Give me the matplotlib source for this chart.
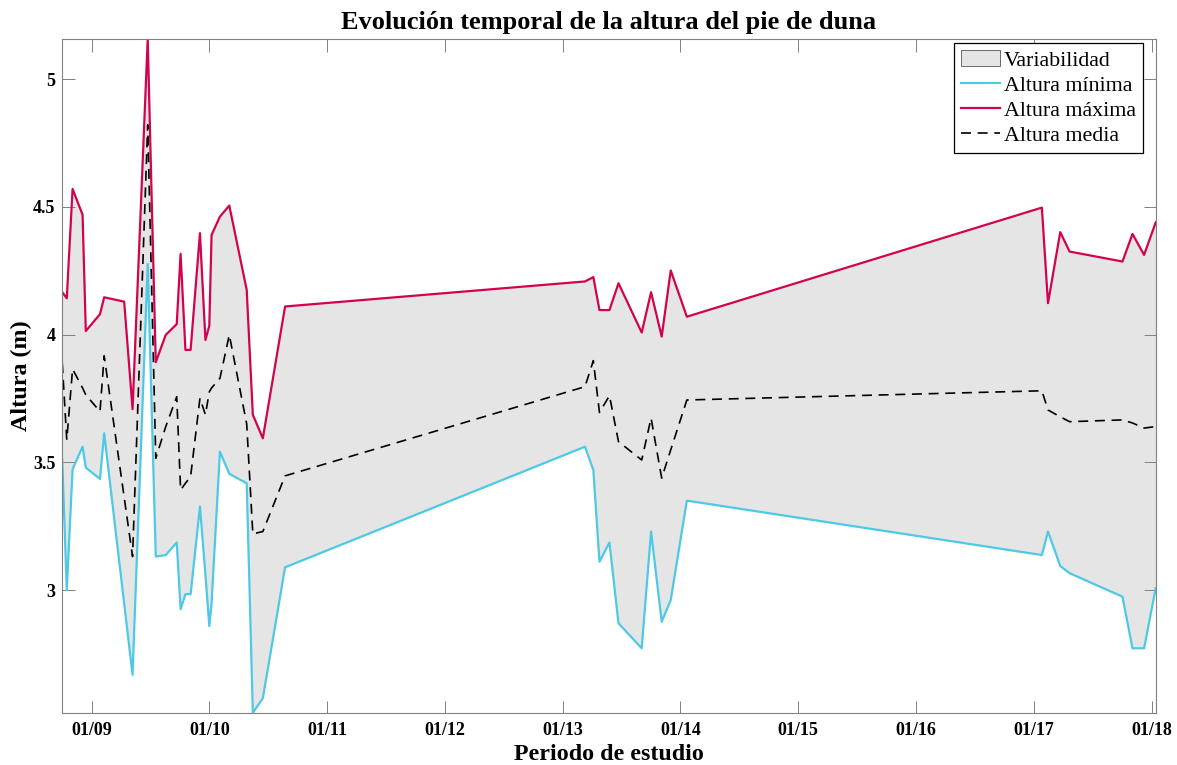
import numpy as np
import pandas as pd
import matplotlib
matplotlib.use("Agg")
import matplotlib.pyplot as plt
import matplotlib.dates as mdates
from matplotlib.patches import Patch
from matplotlib.lines import Line2D

plt.rcParams['font.family'] = ['Liberation Serif', 'DejaVu Serif']

# Fechas de los levantamientos
fechas = [
    "2008-10-02", "2008-10-16", "2008-11-03", "2008-12-04", "2008-12-14",
    "2009-01-27", "2009-02-09", "2009-04-12", "2009-05-08", "2009-06-24",
    "2009-07-19", "2009-08-19", "2009-09-22", "2009-10-04", "2009-10-19",
    "2009-11-04", "2009-12-03", "2009-12-20", "2010-01-01", "2010-01-08",
    "2010-02-03", "2010-03-04", "2010-04-27", "2010-05-16", "2010-06-16",
    "2010-08-24", "2013-03-11", "2013-04-06", "2013-04-25", "2013-05-26",
    "2013-06-23", "2013-09-03", "2013-10-02", "2013-11-04", "2013-12-02",
    "2014-01-21", "2017-01-26", "2017-02-14", "2017-03-24", "2017-04-22",
    "2017-10-03", "2017-11-03", "2017-12-09", "2018-01-14",
]

# Altura del pie de duna (m)
altura_max = [
    4.166, 4.142, 4.570, 4.469, 4.014, 4.080, 4.146, 4.129, 3.708, 5.157,
    3.892, 3.999, 4.041, 4.316, 3.940, 3.940, 4.397, 3.979, 4.035, 4.390,
    4.462, 4.505, 4.175, 3.686, 3.594, 4.110, 4.208, 4.225, 4.096, 4.096,
    4.201, 4.008, 4.166, 3.992, 4.251, 4.070, 4.497, 4.123, 4.401, 4.325,
    4.286, 4.394, 4.312, 4.439,
]
altura_min = [
    3.509, 3.000, 3.473, 3.561, 3.479, 3.435, 3.614, 2.947, 2.668, 4.276,
    3.131, 3.137, 3.186, 2.925, 2.984, 2.984, 3.327, 3.060, 2.859, 2.948,
    3.542, 3.455, 3.418, 2.520, 2.576, 3.089, 3.561, 3.470, 3.111, 3.186,
    2.870, 2.772, 3.229, 2.876, 2.961, 3.350, 3.137, 3.229, 3.094, 3.066,
    2.974, 2.772, 2.772, 3.007,
]
altura_media = [
    3.888, 3.588, 3.865, 3.791, 3.764, 3.699, 3.917, 3.363, 3.131, 4.821,
    3.516, 3.640, 3.757, 3.392, 3.418, 3.444, 3.751, 3.686, 3.776, 3.791,
    3.829, 3.999, 3.650, 3.220, 3.229, 3.447, 3.796, 3.898, 3.695, 3.761,
    3.581, 3.509, 3.673, 3.438, 3.549, 3.744, 3.780, 3.705, 3.678, 3.659,
    3.666, 3.654, 3.634, 3.640,
]

t = pd.to_datetime(fechas)
hmax = np.array(altura_max)
hmin = np.array(altura_min)
hmed = np.array(altura_media)

col_max = '#D3024F'
col_min = '#4DC9E6'
col_fill = '#E5E5E5'

fig = plt.figure(figsize=(11.77, 7.65), dpi=100)
ax = fig.add_axes([0.0529, 0.0684, 0.9290, 0.8806])

ax.fill_between(t, hmin, hmax, color=col_fill, linewidth=0)
ax.plot(t, hmin, color=col_min, lw=1.6)
ax.plot(t, hmax, color=col_max, lw=1.6)
ax.plot(t, hmed, color='black', lw=1.2, dashes=(6, 4))

ax.set_xlim(t[0], t[-1])
ax.set_ylim(hmin.min(), hmax.max())

ax.xaxis.set_major_locator(mdates.YearLocator())
ax.xaxis.set_major_formatter(mdates.DateFormatter('%m/%y'))
ax.set_yticks([3, 3.5, 4, 4.5, 5])
ax.set_yticklabels(['3', '3.5', '4', '4.5', '5'])

ax.tick_params(direction='in', length=9, width=0.7, color='#808080',
               top=True, right=True, labelsize=13)
ax.tick_params(axis='x', pad=7)
ax.tick_params(axis='y', pad=5)
for lab in ax.get_xticklabels() + ax.get_yticklabels():
    lab.set_fontweight('bold')
for sp in ax.spines.values():
    sp.set_color('#808080')
    sp.set_linewidth(0.8)

ax.set_title('Evolución temporal de la altura del pie de duna',
             fontsize=19, fontweight='bold', pad=7)
ax.set_xlabel('Periodo de estudio', fontsize=17.3, fontweight='bold', labelpad=3)
ax.set_ylabel('Altura (m)', fontsize=17.4, fontweight='bold', labelpad=1)

handles = [
    Patch(facecolor=col_fill, edgecolor='#555555', linewidth=0.6),
    Line2D([], [], color=col_min, lw=1.6),
    Line2D([], [], color=col_max, lw=1.6),
    Line2D([], [], color='black', lw=1.2, dashes=(6, 4)),
]
labels = ['Variabilidad', 'Altura mínima', 'Altura máxima', 'Altura media']
leg = ax.legend(handles, labels, loc='upper right',
                bbox_to_anchor=(0.9884, 0.994), borderaxespad=0,
                fontsize=15.8, fancybox=False, framealpha=1,
                edgecolor='black', handlelength=1.75, handletextpad=0.18,
                labelspacing=0.21, borderpad=0.33)
leg.get_frame().set_linewidth(0.9)

fig.savefig('out.png', dpi=100)
